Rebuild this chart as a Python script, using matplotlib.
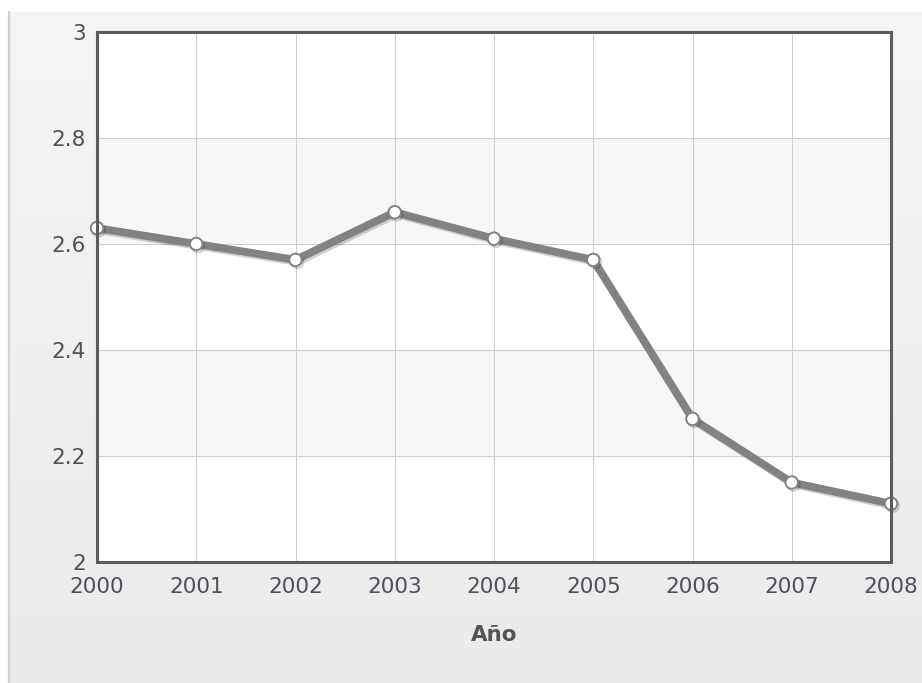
import matplotlib
matplotlib.use("Agg")
import matplotlib.pyplot as plt
import matplotlib.patheffects as pe
from matplotlib.lines import Line2D
import numpy as np

# data
years = [2000, 2001, 2002, 2003, 2004, 2005, 2006, 2007, 2008]
values = [2.63, 2.60, 2.57, 2.66, 2.61, 2.57, 2.27, 2.15, 2.11]
y_ticks = [2, 2.2, 2.4, 2.6, 2.8, 3]
y_labels = ["2", "2.2", "2.4", "2.6", "2.8", "3"]
x_label = "Año"

W, H = 922, 683
fig = plt.figure(figsize=(W / 100, H / 100), dpi=100)
fig.patch.set_facecolor("white")

# light gray gradient panel behind the chart
bg = fig.add_axes([9 / W, 0, 1 - 9 / W, (H - 12) / H], zorder=-5)
grad = np.linspace(0, 1, 256).reshape(-1, 1)
bg.imshow(grad, aspect="auto", cmap=matplotlib.colors.LinearSegmentedColormap.from_list(
    "bg", ["#f5f5f5", "#ebebeb"]), extent=[0, 1, 0, 1], origin="upper")
bg.axis("off")
fig.add_artist(Line2D([8.5 / W, 8.5 / W], [0, (H - 12) / H], color="#d2d2d2", lw=1.6))

ax = fig.add_axes([97 / W, 121 / H, 794 / W, 530 / H])
ax.set_facecolor("white")

# alternating bands
for lo, hi in [(2.2, 2.4), (2.6, 2.8)]:
    ax.axhspan(lo, hi, color="#f7f7f7", zorder=0, lw=0)

ax.set_xlim(2000, 2008)
ax.set_ylim(2, 3)
ax.set_xticks(years)
ax.set_xticklabels([str(y) for y in years])
ax.set_yticks(y_ticks)
ax.set_yticklabels(y_labels)
ax.grid(True, color="#cfcfcf", lw=0.8, zorder=1)
ax.set_axisbelow(True)

ax.plot(years, values, color="#828282", lw=5.6, marker="o", ms=9,
        mfc="white", mec="#828282", mew=1.4, clip_on=False, zorder=5,
        solid_joinstyle="round",
        path_effects=[pe.SimpleLineShadow(offset=(1.2, -1.5), shadow_color="black", alpha=0.18),
                      pe.Normal()])

for s in ax.spines.values():
    s.set_color("#5c5c5c")
    s.set_linewidth(2.2)
    s.set_zorder(6)

txt_color = "#4e4e5c"
ax.tick_params(axis="both", length=0, labelsize=15.5, colors=txt_color)
ax.tick_params(axis="y", pad=8)
ax.tick_params(axis="x", pad=11)
ax.set_xlabel(x_label, fontsize=15.5, fontweight="bold", color="#555555", labelpad=20)

fig.savefig("out.png", dpi=100)
